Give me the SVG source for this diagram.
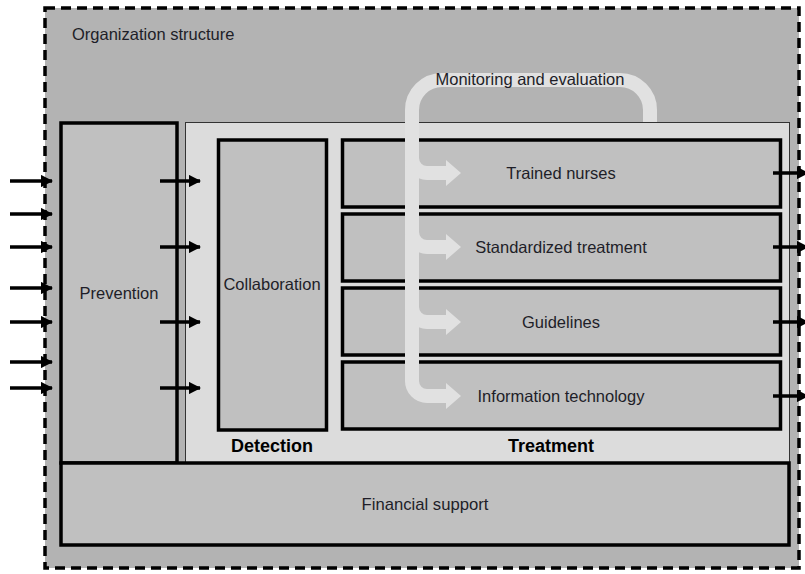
<svg xmlns="http://www.w3.org/2000/svg" width="805" height="574" viewBox="0 0 805 574">
<style>
.box{fill:#c0c0c0;stroke:#000;stroke-width:3.5}
.t{font-family:"Liberation Sans",Arial,sans-serif;font-size:16.5px;fill:#1e1e28;text-anchor:middle}
.b{font-family:"Liberation Sans",Arial,sans-serif;font-size:18px;font-weight:bold;fill:#000;text-anchor:middle}
.arr{stroke:#000;stroke-width:3.5;fill:none}
.band{stroke:#e1e1e1;stroke-width:14;fill:none}
</style>
<defs>
<marker id="ah" viewBox="0 0 10 10" refX="9" refY="5" markerWidth="3.5" markerHeight="3.5" orient="auto" markerUnits="strokeWidth">
<path d="M0,0 L10,5 L0,10 Z" fill="#000"/>
</marker>
</defs>
<g id="organization">
<rect x="45" y="8" width="754" height="560" fill="#b3b3b3" stroke="#000" stroke-width="3.5" stroke-dasharray="10 6"/>
<text class="t" x="72" y="40" style="text-anchor:start">Organization structure</text>
</g>
<g id="prevention">
<rect class="box" x="61" y="123" width="116" height="340"/>
<text class="t" x="119" y="299">Prevention</text>
</g>
<g id="panel">
<rect x="185.5" y="122.5" width="604" height="340" fill="#dcdcdc" stroke="#333" stroke-width="1"/>
</g>
<g id="detection">
<rect class="box" x="218.5" y="140" width="108" height="290"/>
<text class="t" x="272" y="290">Collaboration</text>
<text class="b" x="272" y="452">Detection</text>
</g>
<g id="treatment">
<text class="b" x="551" y="452">Treatment</text>
</g>
<g id="trained-nurses">
<rect class="box" x="342.5" y="140" width="438" height="67"/>
<text class="t" x="561" y="179">Trained nurses</text>
</g>
<g id="standardized-treatment">
<rect class="box" x="342.5" y="214" width="438" height="67"/>
<text class="t" x="561" y="253">Standardized treatment</text>
</g>
<g id="guidelines">
<rect class="box" x="342.5" y="288" width="438" height="67"/>
<text class="t" x="561" y="328">Guidelines</text>
</g>
<g id="information-technology">
<rect class="box" x="342.5" y="362" width="438" height="67"/>
<text class="t" x="561" y="402">Information technology</text>
</g>
<g id="financial-support">
<rect class="box" x="61" y="463" width="728" height="82"/>
<text class="t" x="425" y="510" style="font-size:17px" textLength="127" lengthAdjust="spacingAndGlyphs">Financial support</text>
</g>
<g id="monitoring">
<path class="band" d="M650 122 L650 110 A30 30 0 0 0 620 80 L442 80 A30 30 0 0 0 412 110 L412 381 A15 15 0 0 0 427 396 L448 396"/>
<path class="band" d="M412 158 A15 15 0 0 0 427 173 L448 173"/>
<path class="band" d="M412 232 A15 15 0 0 0 427 247 L448 247"/>
<path class="band" d="M412 307 A15 15 0 0 0 427 322 L448 322"/>
<g fill="#e1e1e1">
<polygon points="446,160 461,173 446,186"/>
<polygon points="446,234 461,247 446,260"/>
<polygon points="446,309 461,322 446,335"/>
<polygon points="446,383 461,396 446,409"/>
</g>
<text class="t" x="530" y="85">Monitoring and evaluation</text>
</g>
<g id="connectors">
<path class="arr" marker-end="url(#ah)" d="M10 181 H52"/>
<path class="arr" marker-end="url(#ah)" d="M10 214 H52"/>
<path class="arr" marker-end="url(#ah)" d="M10 247 H52"/>
<path class="arr" marker-end="url(#ah)" d="M10 288 H52"/>
<path class="arr" marker-end="url(#ah)" d="M10 322 H52"/>
<path class="arr" marker-end="url(#ah)" d="M10 362 H52"/>
<path class="arr" marker-end="url(#ah)" d="M10 388 H52"/>
<path class="arr" marker-end="url(#ah)" d="M160 181 H200"/>
<path class="arr" marker-end="url(#ah)" d="M160 247 H200"/>
<path class="arr" marker-end="url(#ah)" d="M160 322 H200"/>
<path class="arr" marker-end="url(#ah)" d="M160 388 H200"/>
<path class="arr" marker-end="url(#ah)" d="M773 173 H808"/>
<path class="arr" marker-end="url(#ah)" d="M773 247 H808"/>
<path class="arr" marker-end="url(#ah)" d="M773 322 H808"/>
<path class="arr" marker-end="url(#ah)" d="M773 396 H808"/>
</g>
</svg>
